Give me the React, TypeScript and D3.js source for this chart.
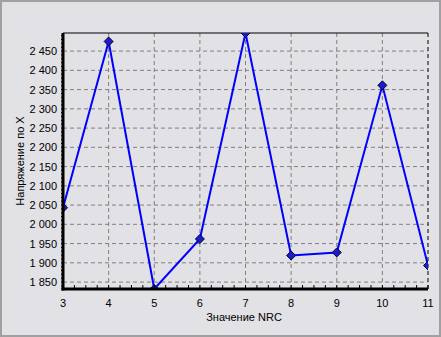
import React from "react";
import * as d3 from "d3";

const nrcValues = [3, 4, 5, 6, 7, 8, 9, 10, 11];
const voltageX = [2043, 2475, 1832, 1962, 2497, 1919, 1927, 2361, 1893];
const yTicks = [1850, 1900, 1950, 2000, 2050, 2100, 2150, 2200, 2250, 2300, 2350, 2400, 2450];
const xTicks = [3, 4, 5, 6, 7, 8, 9, 10, 11];
const xLabel = "Значение NRC";
const yLabel = "Напряжение по X";

const W = 441, H = 337;
const L = 63, R = 428, T = 33, B = 289;

export default function App() {
  const x = d3.scaleLinear().domain([3, 11]).range([L, R]);
  const y = d3.scaleLinear().domain([1832, 2497]).range([B, T]);
  const fmt = (v: number) => d3.format(",")(v).replace(/,/g, " ");
  const line = d3.line<number>().x((_, i) => x(nrcValues[i])).y((v) => y(v));
  const minorX = d3.range(3, 11.001, 0.25);
  const minorY = d3.range(1840, 2497, 10);
  const s = 4.5;
  const diamond = `M0,${-s}L${s},0L0,${s}L${-s},0Z`;
  const font = "'Liberation Sans', Arial, sans-serif";
  return (
    <svg width={W} height={H} style={{ position: "absolute", left: 0, top: 0 }} fontFamily={font} fontSize={11}>
      <rect x={0} y={0} width={W} height={H} fill="#e1e1e6" />
      <rect x={1} y={1} width={W - 2} height={H - 2} fill="none" stroke="#a0a0a0" strokeWidth={2} />
      <defs>
        <clipPath id="plotclip">
          <rect x={L} y={T} width={R - L} height={B - T} />
        </clipPath>
      </defs>
      {yTicks.map((t) => (
        <line key={"gy" + t} x1={L} x2={R} y1={y(t)} y2={y(t)} stroke="#808080" strokeDasharray="4,3" />
      ))}
      {xTicks.map((t) => (
        <line key={"gx" + t} x1={x(t)} x2={x(t)} y1={T} y2={B} stroke={t === 11 ? "#000" : "#808080"} strokeDasharray="4,3" />
      ))}
      <line x1={L} x2={R} y1={T} y2={T} stroke="#000" strokeWidth={1} />
      <g clipPath="url(#plotclip)">
        <path d={line(voltageX) || ""} fill="none" stroke="#0000ff" strokeWidth={2} />
        {voltageX.map((v, i) => (
          <path key={"m" + i} d={diamond} transform={`translate(${x(nrcValues[i])},${y(v)})`} fill="#1c1cc8" stroke="#000040" strokeWidth={1} />
        ))}
      </g>
      {minorX.map((t, i) => (
        <line key={"mx" + i} x1={x(t)} x2={x(t)} y1={B} y2={B - 4} stroke="#000" />
      ))}
      {minorY.map((t, i) => (
        <line key={"my" + i} x1={L} x2={L - 2} y1={y(t)} y2={y(t)} stroke="#000" />
      ))}
      <line x1={L} x2={L} y1={T} y2={B + 1.5} stroke="#000" strokeWidth={3} />
      <line x1={L - 1.5} x2={R} y1={B} y2={B} stroke="#000" strokeWidth={3} />
      {yTicks.map((t) => (
        <text key={"ly" + t} x={57} y={y(t) + 4} textAnchor="end" fill="#000">{fmt(t)}</text>
      ))}
      {xTicks.map((t) => (
        <text key={"lx" + t} x={x(t)} y={307} textAnchor="middle" fill="#000">{t}</text>
      ))}
      <text x={244} y={321} textAnchor="middle" fill="#000">{xLabel}</text>
      <text transform={`translate(24,161) rotate(-90)`} textAnchor="middle" fill="#000">{yLabel}</text>
    </svg>
  );
}
